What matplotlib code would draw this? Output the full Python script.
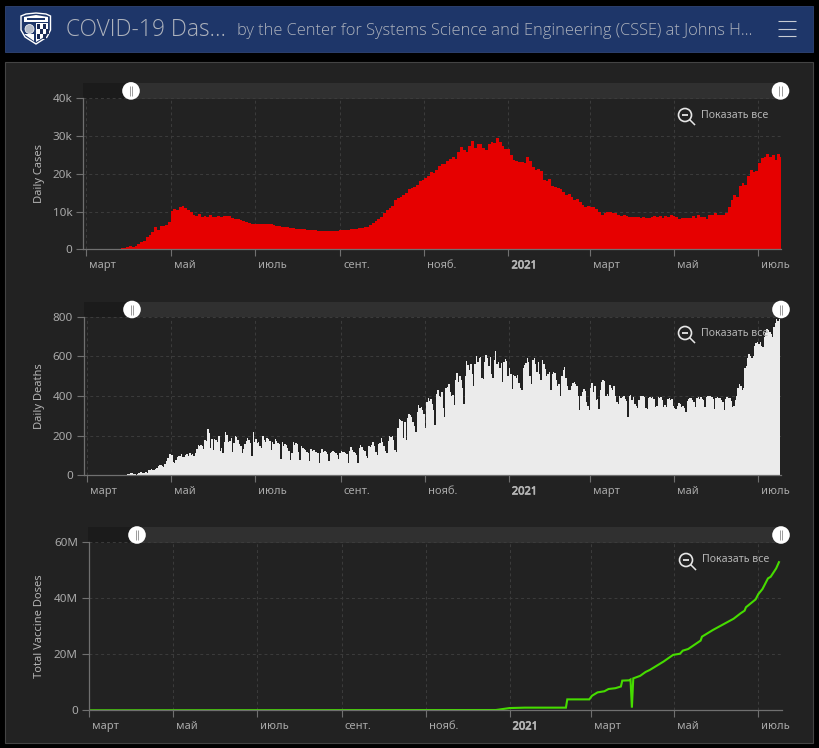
import datetime as dt
import matplotlib
matplotlib.use("Agg")
import matplotlib.pyplot as plt
import matplotlib.dates as mdates
import matplotlib.patheffects as pe
from matplotlib.patches import Rectangle, Circle, Polygon
from matplotlib.transforms import ScaledTranslation

plt.rcParams['font.family'] = ['Noto Sans', 'DejaVu Sans']

# ---------- data ----------
month_ticks = ['2020-03-01', '2020-05-01', '2020-07-01', '2020-09-01', '2020-11-01',
               '2021-01-01', '2021-03-01', '2021-05-01', '2021-07-01']
month_labels = ['март', 'май', 'июль', 'сент.', 'нояб.', '2021', 'март', 'май', 'июль']

# Daily cases, thousands, one reading every two days from 2020-02-27
cases_k = [
 0, 0, 0, 0, 0, 0, 0, 0, 0, 0, 0, 0, 0, .2, .3, .3, .5, .8, .6, 1.0,
 1.4, 1.9, 2.3, 3.2, 3.9, 4.6, 5.9, 5.2, 6.1, 6.3, 6.5, 7.2, 10.2, 10.6, 10.5, 11.1, 11.6, 10.9, 10.4, 10.0,
 9.2, 8.8, 9.4, 8.7, 8.9, 8.5, 9.1, 8.7, 8.6, 8.8, 8.7, 8.8, 8.9, 8.8, 8.3, 8.0, 8.1, 7.9, 7.5, 7.2,
 7.0, 6.8, 6.8, 6.8, 6.7, 6.7, 6.8, 6.6, 6.7, 6.4, 6.3, 6.1, 5.9, 5.9, 5.8, 5.7, 5.6, 5.5, 5.3, 5.4,
 5.3, 5.1, 5.2, 5.0, 5.0, 4.9, 4.9, 4.9, 4.9, 4.9, 4.9, 4.9, 4.9, 5.1, 5.0, 5.1, 5.2, 5.3, 5.3, 5.4,
 5.6, 5.7, 5.8, 6.0, 6.4, 7.1, 7.6, 8.1, 8.7, 9.6, 10.5, 10.9, 11.5, 13.0, 13.5, 14.0, 14.4, 15.0, 16.0, 16.2,
 16.6, 17.0, 18.2, 18.5, 18.8, 19.5, 20.5, 20.2, 21.0, 22.0, 22.5, 22.6, 23.5, 24.0, 24.6, 24.0, 25.8, 27.2, 26.4, 25.8,
 27.5, 28.6, 26.8, 27.9, 28.0, 26.8, 26.3, 27.8, 28.5, 28.3, 29.4, 28.5, 27.3, 26.6, 26.6, 25.0, 23.7, 23.4, 23.2, 23.1,
 23.0, 24.6, 23.5, 21.8, 21.0, 21.2, 20.8, 18.5, 18.2, 18.6, 16.8, 16.5, 16.3, 16.0, 15.2, 14.5, 14.6, 13.9, 13.2, 13.3,
 12.6, 11.7, 11.2, 11.4, 11.2, 11.3, 10.6, 10.0, 9.2, 9.6, 9.9, 10.0, 9.6, 9.7, 9.2, 8.8, 9.0, 8.9, 8.6, 8.7,
 8.5, 8.5, 8.3, 8.7, 8.4, 8.2, 8.7, 8.9, 8.5, 8.8, 8.4, 8.8, 8.7, 9.2, 8.8, 8.5, 8.1, 8.2, 8.2, 8.3,
 8.3, 8.9, 8.4, 9.0, 8.5, 8.5, 8.1, 9.0, 9.0, 9.5, 9.0, 9.0, 9.2, 9.6, 11.3, 13.0, 14.4, 14.0, 16.8, 17.5,
 17.0, 19.5, 21.0, 20.5, 20.8, 23.0, 24.2, 24.4, 25.2, 24.6, 25.0, 23.8, 25.2, 24.6,
]

# Daily deaths, one reading per day from 2020-02-27, rows are Saturday-dip weeks
deaths = [
 0, 0, 0,
 0, 0, 0, 0, 0, 0, 0,
 0, 0, 0, 0, 0, 0, 0,
 0, 0, 1, 1, 1, 1, 1,
 1, 1, 1, 2, 1, 2, 2,
 3, 5, 9, 11, 10, 8, 6,
 4, 6, 13, 15, 16, 14, 10,
 15, 12, 25, 28, 30, 25, 27,
 30, 38, 46, 52, 50, 48, 44,
 55, 70, 85, 108, 105, 100, 65,
 60, 78, 92, 98, 95, 105, 90,
 90, 100, 108, 95, 110, 100, 105,
 95, 115, 135, 155, 150, 155, 150,
 135, 178, 172, 232, 215, 140, 185,
 130, 182, 178, 170, 198, 125, 140,
 115, 170, 217, 205, 170, 175, 190,
 118, 165, 198, 192, 180, 160, 150,
 110, 135, 160, 175, 190, 180, 165,
 95, 217, 170, 185, 165, 170, 150,
 138, 198, 180, 170, 190, 185, 175,
 130, 170, 160, 183, 175, 165, 160,
 80, 166, 150, 160, 155, 140, 125,
 75, 110, 166, 155, 165, 160, 120,
 75, 148, 140, 135, 128, 120, 115,
 70, 133, 125, 130, 120, 118, 110,
 60, 115, 133, 120, 125, 118, 105,
 70, 110, 118, 122, 120, 112, 100,
 80, 115, 122, 118, 120, 115, 108,
 60, 125, 141, 130, 118, 112, 100,
 60, 140, 153, 145, 130, 125, 95,
 85, 150, 145, 155, 166, 150, 120,
 100, 160, 165, 186, 170, 150, 125,
 110, 175, 200, 195, 198, 180, 130,
 120, 240, 282, 280, 275, 190, 270,
 180, 290, 310, 305, 295, 270, 250,
 220, 320, 355, 340, 345, 330, 310,
 240, 370, 388, 375, 385, 360, 330,
 255, 410, 430, 400, 395, 420, 340,
 296, 440, 445, 460, 420, 400, 405,
 355, 480, 514, 470, 500, 480, 440,
 360, 500, 578, 555, 530, 560, 510,
 450, 560, 600, 570, 590, 595, 490,
 485, 570, 607, 590, 550, 595, 510,
 490, 580, 627, 560, 570, 540, 565,
 470, 570, 587, 575, 500, 540, 510,
 435, 505, 500, 490, 505, 465, 440,
 430, 540, 556, 565, 593, 570, 500,
 460, 580, 593, 560, 520, 570, 510,
 480, 582, 560, 535, 500, 510, 520,
 430, 510, 523, 515, 480, 450, 460,
 400, 500, 530, 545, 490, 450, 430,
 430, 450, 465, 472, 460, 450, 400,
 330, 400, 420, 435, 425, 370, 350,
 330, 440, 467, 420, 450, 380, 385,
 335, 430, 470, 480, 475, 400, 410,
 400, 455, 440, 430, 450, 400, 370,
 360, 400, 390, 395, 400, 385, 375,
 295, 400, 405, 380, 395, 360, 350,
 340, 380, 400, 400, 400, 395, 340,
 335, 390, 393, 390, 393, 385, 345,
 350, 393, 390, 393, 380, 345, 355,
 345, 385, 388, 380, 385, 350, 340,
 335, 350, 366, 360, 345, 350, 340,
 320, 375, 385, 390, 388, 380, 370,
 345, 390, 397, 385, 395, 385, 380,
 345, 395, 400, 400, 398, 395, 385,
 335, 390, 393, 390, 392, 380, 370,
 330, 385, 393, 390, 390, 375, 345,
 350, 380, 400, 440, 463, 450, 430,
 438, 540, 550, 590, 610, 600, 590,
 600, 650, 665, 673, 660, 670, 650,
 648, 700, 720, 740, 735, 725, 715,
 700, 750, 770, 786, 780, 790,
]

# Total vaccine doses, millions
vaccine_dates = ['2020-03-01', '2020-12-22', '2021-01-01', '2021-01-12', '2021-02-11', '2021-02-12',
                 '2021-02-28', '2021-03-02', '2021-03-06', '2021-03-11', '2021-03-14', '2021-03-19',
                 '2021-03-23', '2021-03-24', '2021-03-29', '2021-03-30', '2021-03-31', '2021-04-01',
                 '2021-04-06', '2021-04-10', '2021-04-13', '2021-04-23', '2021-04-30', '2021-05-05',
                 '2021-05-07', '2021-05-11', '2021-05-20', '2021-05-21', '2021-05-29', '2021-06-13',
                 '2021-06-18', '2021-06-21', '2021-06-22', '2021-06-29', '2021-07-01', '2021-07-04',
                 '2021-07-08', '2021-07-10', '2021-07-14', '2021-07-16']
vaccine_m = [0, 0.1, 0.8, 0.95, 0.95, 3.9,
             3.9, 5.2, 6.4, 6.8, 7.6, 7.9,
             8.5, 10.6, 10.7, 11.0, 0.95, 11.4,
             12.3, 13.7, 14.4, 17.4, 19.8, 20.2,
             21.3, 21.9, 24.9, 26.3, 28.7, 32.7,
             34.6, 35.6, 36.8, 39.6, 41.5, 43.3,
             47.1, 47.7, 50.7, 52.9]

y_titles = ['Daily Cases', 'Daily Deaths', 'Total Vaccine Doses']
y_ticks = [[0, 10000, 20000, 30000, 40000], [0, 200, 400, 600, 800], [0, 20e6, 40e6, 60e6]]
y_ticklabels = [['0', '10k', '20k', '30k', '40k'], ['0', '200', '400', '600', '800'],
                ['0', '20M', '40M', '60M']]
title_text = 'COVID-19 Das…'
subtitle_text = 'by the Center for Systems Science and Engineering (CSSE) at Johns H…'
reset_text = 'Показать все'

# ---------- colours ----------
BG = '#000000'; PANEL = '#222222'; NAVY = '#1e3669'
RED = '#e60000'; WHITE = '#ebebeb'; GREEN = '#46dc00'
TXT = '#a9a9a9'; AXC = '#707070'; GRID = '#3c3c3c'

W, H = 819, 748
fig = plt.figure(figsize=(W / 100, H / 100), dpi=100, facecolor=BG)


def overlay(z):
    a = fig.add_axes([0, 0, 1, 1], zorder=z)
    a.set_xlim(0, W); a.set_ylim(H, 0); a.axis('off')
    a.patch.set_alpha(0)
    return a


bg = overlay(0)
fg = overlay(10)

bg.add_patch(Rectangle((5, 6), 808, 45.5, fc=NAVY, ec='#2b3f6c', lw=0.7))
bg.add_patch(Rectangle((5, 62), 808, 680.5, fc=PANEL, ec='#444444', lw=0.8))

bg.text(66, 30, title_text, color='#aeb3bd', fontsize=16.4, va='center', ha='left',
        family=['Open Sans', 'DejaVu Sans'], fontweight='light')
bg.text(237, 31, subtitle_text, color='#aeb3bd', fontsize=11.8, va='center', ha='left',
        family=['Open Sans', 'DejaVu Sans'], fontweight='light')
for yy in (21, 29, 36):
    bg.plot([778, 796], [yy, yy], color='#c8ccd4', lw=0.8, solid_capstyle='butt')

# JHU shield logo (schematic)
shield = [(21, 16), (26, 14), (36, 13), (46, 14), (50.5, 16), (50.5, 30), (47, 37), (36, 44), (25, 37), (21, 30)]
bg.add_patch(Polygon(shield, closed=True, fc=NAVY, ec='white', lw=1.0))
bg.add_patch(Polygon([(24, 17), (36, 15), (48, 17), (48, 22), (24, 22)], closed=True, fc='white', ec='none'))
bg.add_patch(Rectangle((27, 17.5), 18, 2, fc=NAVY, ec='none'))
bg.add_patch(Circle((29.5, 29), 4.5, fc='#b7bdc9', ec='white', lw=0.5))
bg.add_patch(Polygon([(36, 23), (48, 23), (48, 30), (44, 37), (36, 42)], closed=True, fc='white', ec='none'))
for (cx, cy) in [(37, 24), (43, 24), (40, 29), (46, 29), (37, 34), (43, 34)]:
    bg.add_patch(Rectangle((cx, cy), 3, 5, fc='#1a2a55', ec='none'))
bg.add_patch(Polygon([(24, 34), (34, 34), (34, 41)], closed=True, fc='white', ec='none'))


def draw_slider(left, right, top, bottom, cx, cy_right_x):
    cy = (top + bottom) / 2
    bg.add_patch(Rectangle((left, top), right - left, bottom - top, fc='#303030', ec='none'))
    bg.add_patch(Rectangle((left, top), cx - left, bottom - top, fc='#1b1b1b', ec='none'))
    for x in (cx, cy_right_x):
        fg.add_patch(Circle((x, cy), 8.8, fc='white', ec='none'))
        for dx in (-1.2, 1.2):
            fg.plot([x + dx, x + dx], [cy - 5, cy + 5], color='#9a9a9a', lw=0.7, solid_capstyle='butt')


def draw_reset(x, y):
    fg.add_patch(Circle((x, y), 6.5, fc='none', ec='#e6e6e6', lw=1.2))
    fg.plot([x - 3, x + 3], [y, y], color='#e6e6e6', lw=1.3, solid_capstyle='butt')
    fg.plot([x + 4.8, x + 9.5], [y + 4.8, y + 9.5], color='#e6e6e6', lw=1.1)
    fg.text(x + 16, y, reset_text, color='#b5b5b5', fontsize=7.6, va='center', ha='left')


def make_axes(left, right, top, bottom):
    ax = fig.add_axes([left / W, 1 - bottom / H, (right - left) / W, (bottom - top) / H], zorder=5)
    ax.patch.set_alpha(0)
    return ax


def style_axes(ax, idx, label_x, left, right):
    for s in ('top', 'right'):
        ax.spines[s].set_visible(False)
    for s in ('left', 'bottom'):
        ax.spines[s].set_color(AXC)
        ax.spines[s].set_linewidth(0.9)
        ax.spines[s].set_zorder(6)
    ax.set_axisbelow(True)
    ax.grid(True, color=GRID, ls=(0, (3, 3)), lw=0.7)
    ax.set_yticks(y_ticks[idx])
    ax.set_yticklabels(y_ticklabels[idx])
    ax.set_xticks([mdates.date2num(dt.date.fromisoformat(d)) for d in month_ticks])
    ax.set_xticklabels(month_labels, ha='left')
    ax.tick_params(axis='both', colors=AXC, length=5, width=0.8, labelcolor=TXT, labelsize=8.0, pad=3)
    ax.tick_params(axis='y', labelsize=8.4)
    ax.tick_params(axis='x', pad=3)
    shift = ScaledTranslation(3 / 100, 0, fig.dpi_scale_trans)
    for t in ax.get_xticklabels():
        t.set_transform(t.get_transform() + shift)
        if t.get_text() == '2021':
            t.set_color('#b5b5b5')
            t.set_path_effects([pe.withStroke(linewidth=0.5, foreground='#b5b5b5')])
    ax.set_ylabel(y_titles[idx], color='#b5b5b5', fontsize=8.0)
    ax.yaxis.set_label_coords((label_x - left) / (right - left), 0.5)


base = dt.date(2020, 3, 1)
n0 = mdates.date2num(base)

# Panel 1
ax1 = make_axes(83.3, 781, 98.5, 249.3)
edges1 = [n0 - 3 + 2 * i for i in range(len(cases_k) + 1)]
ax1.stairs([v * 1000 for v in cases_k], edges1, fill=True, color=RED, lw=0)
ax1.set_xlim(n0 - 2.3, n0 + 503.6)
ax1.set_ylim(0, 40000)
style_axes(ax1, 0, 45, 83.3, 781)
draw_slider(83, 781, 83.3, 98.5, 131, 780.5)
draw_reset(685, 115)

# Panel 2
ax2 = make_axes(84, 781, 316.7, 475.3)
edges2 = [n0 - 3 + i for i in range(len(deaths) + 1)]
ax2.stairs(deaths, edges2, fill=True, color=WHITE, lw=0)
ax2.set_xlim(n0 - 2.4, n0 + 503.6)
ax2.set_ylim(0, 800)
style_axes(ax2, 1, 45, 84, 781)
draw_slider(84, 781, 302, 317, 132, 781)
draw_reset(685, 333)

# Panel 3
ax3 = make_axes(89, 781.7, 542.3, 710.3)
vx = [mdates.date2num(dt.date.fromisoformat(d)) for d in vaccine_dates]
ax3.plot(vx, [v * 1e6 for v in vaccine_m], color=GREEN, lw=1.5, solid_joinstyle='miter', zorder=3)
ax3.set_xlim(n0, n0 + 504)
ax3.set_ylim(0, 60e6)
style_axes(ax3, 2, 45, 89, 781.7)
draw_slider(88, 781.7, 527, 543, 137, 781)
draw_reset(686, 560)

fig.savefig('out.png', dpi=100, facecolor=BG)
